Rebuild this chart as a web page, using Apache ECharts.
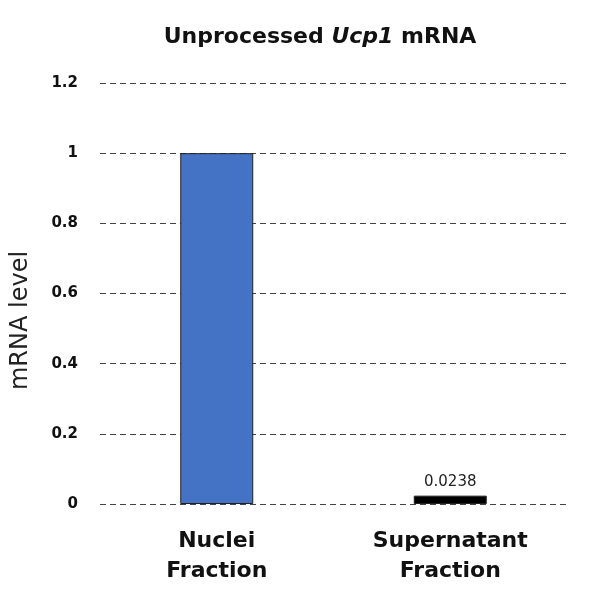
<!DOCTYPE html>
<html><head><meta charset="utf-8">
<script src="https://cdn.jsdelivr.net/npm/echarts@6/dist/echarts.min.js"></script>
<style>html,body{margin:0;padding:0;background:#fff}#c{width:600px;height:591px}</style>
</head><body><div id="c"></div>
<script>
var categories = ['Nuclei\nFraction', 'Supernatant\nFraction'];
var values = [1, 0.0238];
var barColors = ['#4472C4', '#000000'];
var valueLabels = ['', '0.0238'];
var yTicks = [0, 0.2, 0.4, 0.6, 0.8, 1, 1.2];

var chart = echarts.init(document.getElementById('c'));
chart.setOption({
  animation: false,
  backgroundColor: '#fff',
  title: {
    text: '{b|Unprocessed }{i|Ucp1}{b| mRNA}',
    left: 315, top: 21, textAlign: 'center',
    textStyle: {
      rich: {
        b: {fontFamily: 'DejaVu Sans', fontWeight: 'bold', fontSize: 22, color: '#111'},
        i: {fontFamily: 'DejaVu Sans', fontWeight: 'bold', fontStyle: 'italic', fontSize: 22, color: '#111'}
      }
    }
  },
  grid: {left: 100, right: 33, top: 83, bottom: 87, containLabel: false, outerBoundsMode: 'none'},
  xAxis: {
    type: 'category', data: categories,
    axisLine: {show: false}, axisTick: {show: false},
    axisLabel: {margin: 22, fontFamily: 'DejaVu Sans', fontWeight: 'bold', fontSize: 22, color: '#111', lineHeight: 30}
  },
  yAxis: {
    type: 'value', min: 0, max: 1.2, interval: 0.2,
    name: 'mRNA level', nameLocation: 'middle', nameGap: 67,
    nameTextStyle: {fontFamily: 'DejaVu Sans', fontSize: 24, color: '#222', padding: [0, 54, 0, 0]},
    axisLine: {show: false}, axisTick: {show: false},
    axisLabel: {margin: 22, fontFamily: 'DejaVu Sans', fontWeight: 'bold', fontSize: 15, color: '#111',
      formatter: function (v) { return String(Math.round(v * 10) / 10); }},
    splitLine: {show: true, lineStyle: {type: [6, 4], color: '#444', width: 1}}
  },
  series: [{
    type: 'bar', barWidth: 73, z: 3,
    data: values.map(function (v, i) {
      return {
        value: v,
        itemStyle: {color: barColors[i], borderColor: '#222', borderWidth: 1},
        label: {show: !!valueLabels[i], position: 'top', distance: 6, formatter: valueLabels[i] || '',
          fontFamily: 'DejaVu Sans', fontSize: 15, color: '#222'}
      };
    })
  }]
});
</script></body></html>
